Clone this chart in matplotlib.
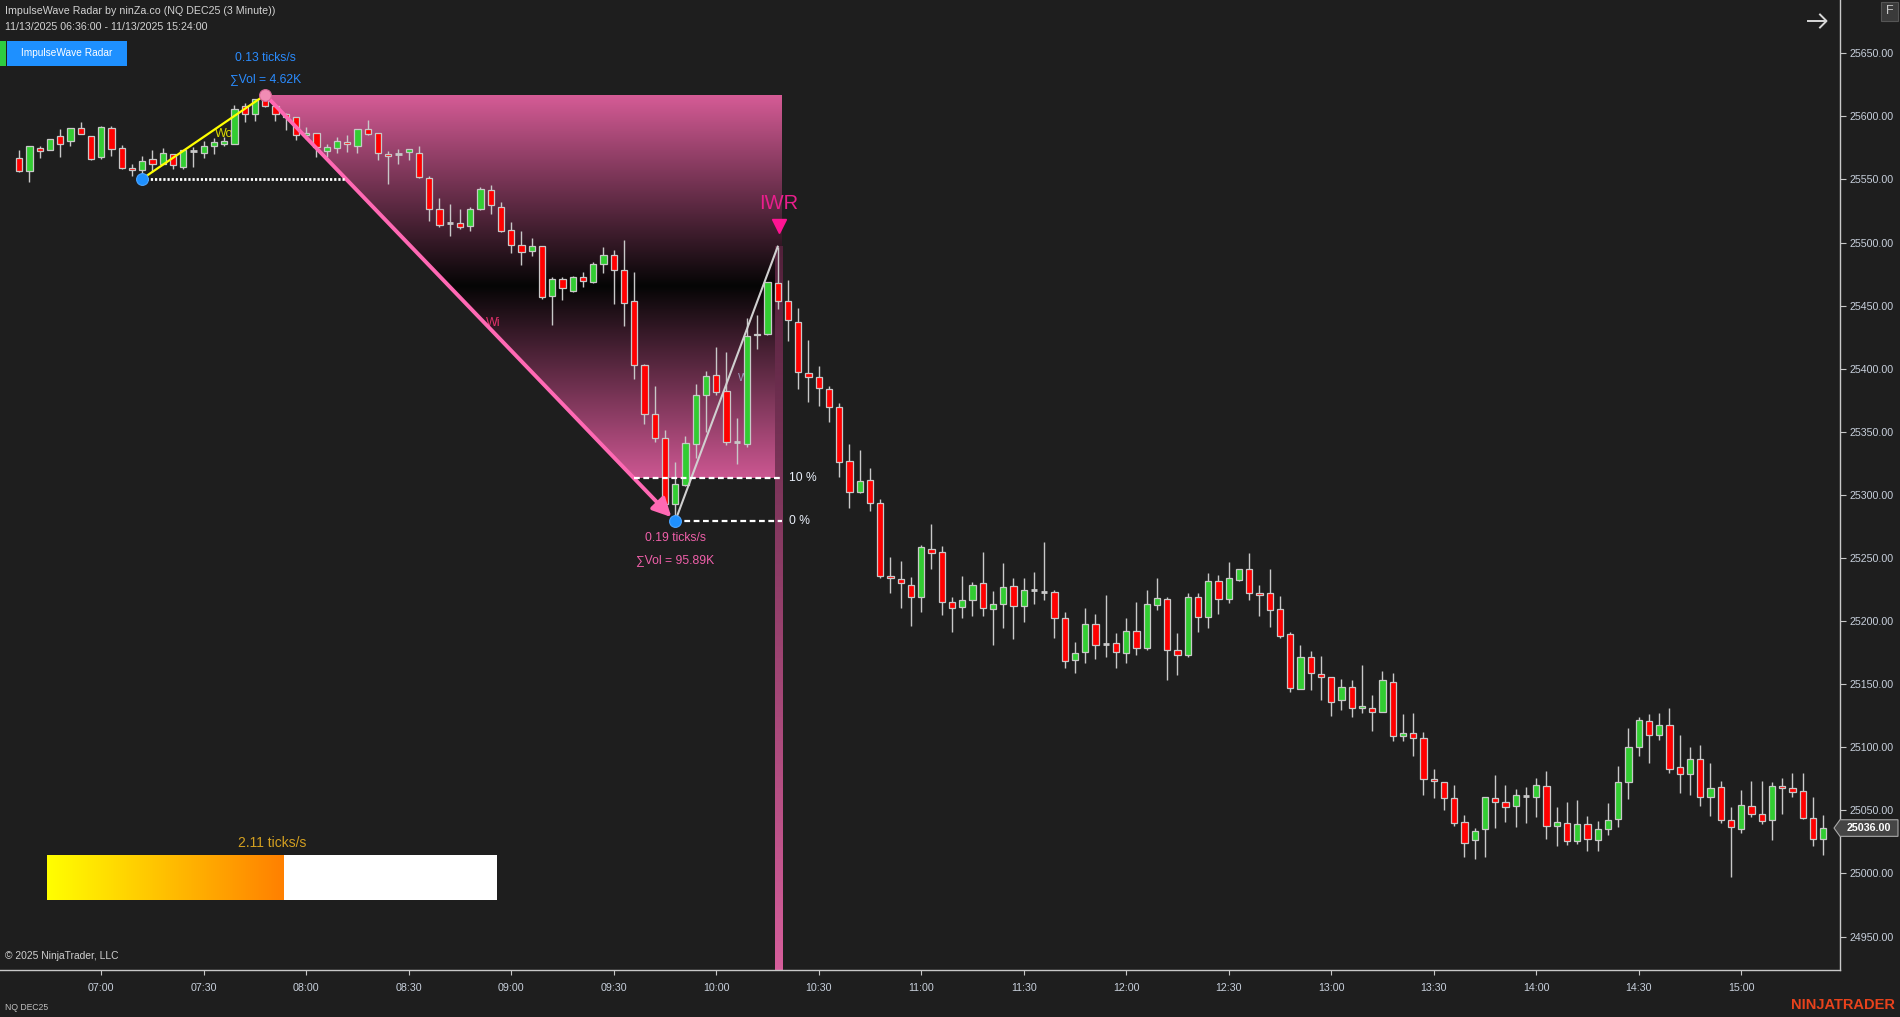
import numpy as np
import matplotlib
matplotlib.use("Agg")
import matplotlib.pyplot as plt
from matplotlib.patches import Polygon, Rectangle
from matplotlib.lines import Line2D
import matplotlib.transforms as mtransforms

plt.rcParams['font.family'] = ['Liberation Sans', 'DejaVu Sans']

# ---------------- data (NQ DEC25, 3 minute bars) ----------------
start_time = "06:36"
bar_minutes = 3

opens = [25566.75, 25556.5, 25574.75, 25573.0, 25584.25, 25580.25, 25590.5, 25584.25, 25567.5, 25590.5,
         25574.75, 25558.75, 25557.25, 25566.0, 25562.25, 25570.0, 25560.0, 25572.5, 25570.75, 25576.25,
         25577.75, 25578.5, 25608.0, 25601.5, 25614.25, 25608.5, 25601.5, 25599.25, 25585.0, 25586.5,
         25572.25, 25574.75, 25579.5, 25576.25, 25589.75, 25586.5, 25570.0, 25570.25, 25571.5, 25570.75,
         25551.0, 25526.25, 25515.75, 25515.75, 25513.5, 25526.25, 25541.5, 25528.0, 25510.25, 25498.25,
         25493.5, 25497.0, 25457.5, 25471.5, 25462.0, 25472.5, 25468.5, 25482.75, 25490.5, 25478.0,
         25453.5, 25403.0, 25364.0, 25345.5, 25292.75, 25307.75, 25340.5, 25379.5, 25394.75, 25382.0,
         25341.75, 25340.5, 25426.5, 25427.25, 25468.25, 25453.5, 25437.25, 25396.5, 25393.25, 25384.25,
         25369.5, 25326.5, 25302.5, 25311.5, 25294.0, 25236.0, 25233.5, 25229.0, 25218.75, 25257.5,
         25254.5, 25215.5, 25211.0, 25216.5, 25230.0, 25209.25, 25213.25, 25227.5, 25211.75, 25224.5,
         25222.75, 25222.75, 25202.25, 25169.0, 25175.25, 25198.0, 25181.5, 25182.5, 25174.5, 25192.0,
         25178.5, 25212.75, 25217.25, 25176.75, 25173.5, 25219.5, 25203.0, 25231.5, 25217.25, 25232.25,
         25241.0, 25222.0, 25222.0, 25209.25, 25189.5, 25146.0, 25171.25, 25157.75, 25155.5, 25137.25,
         25147.5, 25130.75, 25131.5, 25127.75, 25151.5, 25108.75, 25111.0, 25107.0, 25074.75, 25072.25,
         25059.5, 25040.5, 25026.25, 25035.0, 25059.5, 25056.25, 25053.25, 25061.5, 25060.25, 25069.0,
         25038.0, 25039.75, 25025.5, 25039.0, 25026.25, 25035.0, 25043.0, 25072.25, 25100.0, 25120.5,
         25109.5, 25117.5, 25084.0, 25078.5, 25090.5, 25061.0, 25068.25, 25042.0, 25035.0, 25053.25,
         25046.75, 25042.0, 25069.0, 25067.5, 25065.0, 25043.75, 25027.0]

highs = [25573.25, 25576.25, 25576.5, 25582.0, 25590.0, 25590.5, 25595.5, 25584.5, 25592.5, 25592.5,
         25577.25, 25562.0, 25569.0, 25573.25, 25575.0, 25570.0, 25573.0, 25575.5, 25580.75, 25582.5,
         25584.0, 25609.0, 25610.25, 25613.5, 25617.0, 25609.75, 25603.0, 25599.25, 25591.25, 25586.5,
         25577.75, 25583.5, 25585.0, 25589.75, 25597.0, 25586.5, 25572.75, 25574.5, 25574.0, 25576.25,
         25552.75, 25535.0, 25530.25, 25526.25, 25528.0, 25543.75, 25545.25, 25532.0, 25516.0, 25509.5,
         25503.25, 25497.0, 25473.0, 25472.5, 25473.5, 25476.5, 25484.25, 25496.25, 25493.75, 25501.75,
         25477.0, 25403.5, 25386.25, 25351.5, 25325.75, 25346.75, 25388.0, 25398.5, 25417.5, 25413.25,
         25360.75, 25440.0, 25442.25, 25469.0, 25496.75, 25470.0, 25448.0, 25422.75, 25402.25, 25386.25,
         25372.5, 25340.5, 25335.5, 25321.0, 25296.75, 25250.5, 25247.5, 25235.25, 25260.25, 25276.75,
         25259.5, 25219.0, 25235.75, 25230.75, 25254.75, 25223.5, 25246.0, 25234.5, 25234.5, 25239.0,
         25262.5, 25225.0, 25207.0, 25183.25, 25210.0, 25206.0, 25220.5, 25190.25, 25202.25, 25215.5,
         25224.5, 25234.0, 25218.75, 25190.25, 25222.0, 25222.0, 25237.75, 25236.25, 25246.75, 25241.0,
         25254.0, 25228.5, 25241.25, 25220.0, 25191.0, 25181.0, 25176.25, 25172.25, 25155.5, 25154.0,
         25153.25, 25165.25, 25141.5, 25160.5, 25158.5, 25126.5, 25127.25, 25112.0, 25082.75, 25072.25,
         25070.0, 25046.0, 25035.75, 25060.25, 25077.75, 25069.75, 25066.75, 25068.25, 25075.5, 25081.25,
         25052.5, 25056.25, 25058.0, 25045.25, 25041.25, 25055.5, 25085.0, 25115.0, 25123.75, 25126.0,
         25127.0, 25131.0, 25109.5, 25100.0, 25101.5, 25087.25, 25073.0, 25052.5, 25066.0, 25073.0,
         25073.0, 25072.25, 25075.5, 25080.0, 25079.25, 25060.25, 25046.0]

lows = [25556.25, 25548.25, 25567.25, 25573.0, 25568.0, 25576.75, 25585.75, 25565.75, 25566.5, 25568.5,
        25558.5, 25552.75, 25550.5, 25556.25, 25562.0, 25558.5, 25558.5, 25560.0, 25567.0, 25570.0,
        25576.25, 25578.5, 25595.75, 25596.5, 25607.75, 25596.5, 25589.25, 25581.25, 25582.25, 25568.0,
        25567.5, 25571.25, 25572.0, 25571.25, 25585.0, 25565.75, 25546.75, 25562.0, 25565.75, 25551.0,
        25517.25, 25512.5, 25505.5, 25511.0, 25509.5, 25525.5, 25523.0, 25508.5, 25492.0, 25482.5,
        25489.5, 25455.0, 25435.0, 25454.25, 25460.5, 25464.5, 25467.75, 25475.5, 25451.0, 25433.5,
        25392.0, 25356.0, 25341.75, 25290.75, 25279.25, 25307.0, 25329.0, 25350.0, 25379.5, 25339.5,
        25324.25, 25338.25, 25415.5, 25427.0, 25447.0, 25422.25, 25384.25, 25373.5, 25370.75, 25358.0,
        25314.0, 25289.5, 25301.25, 25287.25, 25234.0, 25222.0, 25210.5, 25196.5, 25207.0, 25241.25,
        25204.75, 25191.5, 25202.25, 25204.25, 25204.25, 25181.25, 25194.75, 25186.0, 25199.5, 25213.75,
        25216.5, 25186.75, 25162.5, 25158.5, 25166.5, 25169.75, 25171.25, 25162.5, 25166.5, 25172.75,
        25177.5, 25208.75, 25153.25, 25157.0, 25171.25, 25191.5, 25194.75, 25206.0, 25214.0, 25231.5,
        25216.75, 25204.25, 25195.5, 25187.0, 25144.0, 25146.0, 25145.5, 25137.75, 25125.0, 25129.75,
        25124.25, 25127.5, 25113.0, 25127.75, 25104.75, 25104.75, 25093.25, 25062.5, 25060.0, 25050.5,
        25037.25, 25013.25, 25011.75, 25013.25, 25035.75, 25040.5, 25036.5, 25039.75, 25044.5, 25027.0,
        25021.5, 25022.25, 25023.75, 25017.5, 25017.5, 25030.25, 25036.5, 25058.75, 25092.75, 25087.25,
        25105.5, 25080.0, 25063.5, 25062.0, 25053.25, 25045.25, 25039.75, 24997.5, 25031.75, 25044.5,
        25039.0, 25026.25, 25046.75, 25060.25, 25043.0, 25021.5, 25014.25]

closes = [25556.5, 25576.25, 25572.25, 25581.75, 25578.5, 25590.5, 25585.75, 25566.5, 25591.5, 25574.0,
          25558.75, 25557.25, 25564.5, 25562.25, 25571.0, 25561.25, 25573.0, 25572.5, 25576.25, 25579.5,
          25580.5, 25605.5, 25601.5, 25613.5, 25608.5, 25601.5, 25599.5, 25585.0, 25586.5, 25575.5,
          25575.5, 25580.25, 25577.75, 25589.75, 25585.75, 25570.75, 25568.25, 25570.25, 25574.0, 25551.75,
          25527.0, 25514.25, 25515.75, 25512.5, 25526.25, 25542.25, 25529.5, 25509.5, 25497.75, 25492.75,
          25497.0, 25456.5, 25470.75, 25463.75, 25472.5, 25469.25, 25482.75, 25490.5, 25478.0, 25452.5,
          25402.75, 25364.5, 25345.5, 25292.75, 25308.5, 25341.0, 25379.0, 25394.0, 25381.25, 25341.75,
          25341.75, 25426.25, 25427.75, 25469.0, 25453.5, 25438.5, 25397.25, 25393.5, 25384.75, 25369.5,
          25325.75, 25302.0, 25310.75, 25294.0, 25236.0, 25234.0, 25230.0, 25219.5, 25258.5, 25253.75,
          25215.0, 25210.0, 25216.5, 25229.0, 25210.0, 25213.25, 25226.75, 25211.75, 25225.0, 25224.5,
          25222.75, 25202.25, 25168.0, 25175.0, 25198.0, 25180.75, 25181.5, 25175.25, 25192.0, 25178.5,
          25213.25, 25218.0, 25177.5, 25172.75, 25218.75, 25203.0, 25231.5, 25217.25, 25234.0, 25241.0,
          25222.0, 25220.5, 25208.5, 25188.5, 25146.75, 25171.25, 25158.5, 25155.5, 25135.5, 25147.5,
          25131.5, 25132.5, 25127.75, 25153.0, 25108.75, 25111.0, 25107.0, 25074.75, 25073.25, 25059.5,
          25039.75, 25024.5, 25033.5, 25060.25, 25057.0, 25052.5, 25062.0, 25061.5, 25069.75, 25038.0,
          25040.5, 25025.5, 25039.0, 25027.0, 25035.0, 25042.0, 25072.25, 25100.0, 25122.0, 25109.5,
          25117.5, 25082.5, 25078.5, 25090.5, 25060.25, 25067.5, 25042.0, 25036.5, 25054.0, 25047.5,
          25041.25, 25069.0, 25067.5, 25064.25, 25043.75, 25027.0, 25036.0]

time_tick_labels = ["07:00", "07:30", "08:00", "08:30", "09:00", "09:30", "10:00", "10:30", "11:00",
                    "11:30", "12:00", "12:30", "13:00", "13:30", "14:00", "14:30", "15:00"]
price_ticks = [24950, 25000, 25050, 25100, 25150, 25200, 25250, 25300, 25350, 25400,
               25450, 25500, 25550, 25600, 25650]

# ImpulseWave Radar swing points (bar indices)
swing_low1_idx = 12
swing_high_idx = 24
swing_low2_idx = 64
iwr_idx = 74
retrace_levels = [0.10, 0.0]
level_labels = ["10 %", "0 %"]
speed_up_text = ["0.13 ticks/s", "\u2211Vol = 4.62K"]
speed_down_text = ["0.19 ticks/s", "\u2211Vol = 95.89K"]
speed_now = 2.11
speed_max = 4.0

title_line1 = "ImpulseWave Radar by ninZa.co (NQ DEC25 (3 Minute))"
title_line2 = "11/13/2025 06:36:00 - 11/13/2025 15:24:00"

# ---------------- styling ----------------
BG = '#1e1e1e'
RED = '#ff0000'
GREEN = '#32cd32'
EDGE = '#c8c8c8'
AXC = '#c8c8c8'
TICKC = '#c8d0dc'
PINK = '#ff69b4'
BLUE = '#1e90ff'

W, H = 1900, 1017
fig = plt.figure(figsize=(W / 100, H / 100), dpi=100)
fig.patch.set_facecolor(BG)


def fx(px):
    return px / W


def fy(py):
    return 1 - py / H


ax = fig.add_axes([0, 47 / H, 1840 / W, 970 / H])
ax.set_facecolor(BG)

o = np.array(opens)
h = np.array(highs)
l = np.array(lows)
c = np.array(closes)
x = np.arange(len(c))

XLIM = (-1.873, 177.64)
YLIM = (24923.5, 25692.24)

# swing values derived from the data
lo1_p = l[swing_low1_idx]
hi_p = h[swing_high_idx]
lo2_p = l[swing_low2_idx]
iwr_p = h[iwr_idx]
rng = hi_p - lo2_p
lvl = [lo2_p + r * rng for r in retrace_levels]


def diag_x(p):
    return swing_high_idx + (swing_low2_idx - swing_high_idx) * (hi_p - p) / rng


shade_right = iwr_idx + 0.45

# ---- gradient shading (pink - black - pink) ----
n = 400
tt = np.linspace(0, 1, n)[:, None]
pink_top = np.array([0.84, 0.36, 0.59])
pink_bot = np.array([0.80, 0.34, 0.57])
pink = pink_bot + (pink_top - pink_bot) * tt
f = np.abs(2 * tt - 1)
dark = np.array([0.02, 0.02, 0.02])
rgb = dark + (pink - dark) * f
im = ax.imshow(rgb[:, None, :], extent=[swing_high_idx, shade_right, lvl[0], hi_p],
               origin='lower', aspect='auto', interpolation='bilinear', zorder=1)
poly = Polygon([(swing_high_idx, hi_p), (shade_right, hi_p), (shade_right, lvl[0]),
                (diag_x(lvl[0]), lvl[0])], closed=True, transform=ax.transData)
im.set_clip_path(poly)

# ---- vertical IWR bar ----
tb = np.linspace(0, 1, n)[:, None]  # 0 bottom -> 1 top
bar_bot = np.array([0.84, 0.37, 0.61])
bar_top = np.array([0.32, 0.13, 0.23])
rgb2 = bar_bot + (bar_top - bar_bot) * tb
ax.imshow(rgb2[:, None, :], extent=[iwr_idx - 0.3, shade_right, YLIM[0], iwr_p],
          origin='lower', aspect='auto', interpolation='bilinear', zorder=1.5)

# ---- labels hidden partly behind candles ----
ax.annotate("Wo", xy=((swing_low1_idx + swing_high_idx) / 2, (lo1_p + hi_p) / 2),
            xytext=(8, 2), textcoords='offset points', color='#d8d800', fontsize=9,
            ha='left', va='center', zorder=2)
ax.annotate("Wi", xy=((swing_high_idx + swing_low2_idx) / 2, (hi_p + lo2_p) / 2),
            xytext=(11, -11), textcoords='offset points', color='#e0306a', fontsize=9,
            ha='left', va='center', zorder=2)
ax.annotate("Wr", xy=((swing_low2_idx + iwr_idx) / 2, (lo2_p + iwr_p) / 2),
            xytext=(8, 4), textcoords='offset points', color='#9a9ab8', fontsize=8,
            ha='left', va='center', zorder=2)

# ---- candles ----
up = c > o
dn = c < o
dj = c == o
ax.vlines(x, l, h, color=EDGE, lw=1.0, zorder=3)
ax.bar(x[up], (c - o)[up], bottom=o[up], width=0.6, color=GREEN, edgecolor=EDGE,
       linewidth=0.9, zorder=4)
ax.bar(x[dn], (o - c)[dn], bottom=c[dn], width=0.6, color=RED, edgecolor=EDGE,
       linewidth=0.9, zorder=4)
ax.hlines(c[dj], x[dj] - 0.3, x[dj] + 0.3, color=EDGE, lw=2.0, zorder=4)

# ---- wave lines ----
ax.plot([swing_low1_idx, swing_high_idx], [lo1_p, hi_p], color='#ffff00', lw=1.6, zorder=5,
        solid_capstyle='round')
ax.plot([swing_low2_idx, iwr_idx], [lo2_p, iwr_p], color='#d0d0d0', lw=1.5, zorder=5)
ax.annotate('', xy=(swing_low2_idx, lo2_p), xytext=(swing_high_idx, hi_p),
            arrowprops=dict(arrowstyle='-|>,head_length=0.55,head_width=0.28', color=PINK,
                            lw=2.8, shrinkA=0, shrinkB=4, mutation_scale=20), zorder=5)

# dotted line from first swing low to the wave line
ax.plot([swing_low1_idx, diag_x(lo1_p)], [lo1_p, lo1_p], color='white', lw=2.0,
        linestyle=(0, (0.8, 0.7)), zorder=5)
# retracement levels
ax.plot([diag_x(lvl[0]), shade_right], [lvl[0], lvl[0]], color='white', lw=1.6,
        linestyle=(0, (2.6, 1.6)), zorder=5)
ax.plot([swing_low2_idx, shade_right], [lvl[1], lvl[1]], color='white', lw=1.6,
        linestyle=(0, (2.6, 1.6)), zorder=5)
for v, t in zip(lvl, level_labels):
    ax.annotate(t, xy=(shade_right, v), xytext=(5, 0), textcoords='offset points',
                color='#e8eef8', fontsize=8.7, ha='left', va='center', zorder=6)

# swing dots
ax.plot(swing_low1_idx, lo1_p, 'o', ms=8.5, color=BLUE, mec='#4aa4ff', mew=0.8, zorder=6)
ax.plot(swing_high_idx, hi_p, 'o', ms=8.5, color='#f08cb4', mec='#d86898', mew=0.8, zorder=6)
ax.plot(swing_low2_idx, lo2_p, 'o', ms=8.5, color=BLUE, mec='#4aa4ff', mew=0.8, zorder=6)

# speed / volume labels
ax.annotate(speed_up_text[0], xy=(swing_high_idx, hi_p), xytext=(0, 26.9), textcoords='offset points',
            color='#2a8cff', fontsize=8.7, ha='center', va='center', zorder=6)
ax.annotate(speed_up_text[1], xy=(swing_high_idx, hi_p), xytext=(0, 11.6), textcoords='offset points',
            color='#2a8cff', fontsize=8.7, ha='center', va='center', zorder=6)
ax.annotate(speed_down_text[0], xy=(swing_low2_idx, lo2_p), xytext=(0, -12.2), textcoords='offset points',
            color='#f060aa', fontsize=8.7, ha='center', va='center', zorder=6)
ax.annotate(speed_down_text[1], xy=(swing_low2_idx, lo2_p), xytext=(0, -27.9), textcoords='offset points',
            color='#f060aa', fontsize=8.7, ha='center', va='center', zorder=6)

# IWR signal
ax.plot(iwr_idx + 0.1, iwr_p, marker='v', ms=9.7, color='#ff1493', zorder=6,
        transform=ax.transData + mtransforms.ScaledTranslation(0, 20.7 / 100, fig.dpi_scale_trans))
ax.annotate('IWR', xy=(iwr_idx + 0.1, iwr_p), xytext=(0, 31), textcoords='offset points',
            color='#e91e8c', fontsize=14.5, ha='center', va='center', zorder=6)

# ---- axes ----
ax.set_xlim(*XLIM)
ax.set_ylim(*YLIM)


def minutes(s):
    hh, mm = s.split(':')
    return int(hh) * 60 + int(mm)


tick_pos = [(minutes(t) - minutes(start_time)) // bar_minutes for t in time_tick_labels]
ax.set_xticks(tick_pos)
ax.set_xticklabels(time_tick_labels)
ax.yaxis.tick_right()
ax.set_yticks(price_ticks)
ax.set_yticklabels([f"{v:.2f}" for v in price_ticks])
ax.tick_params(axis='x', colors=AXC, length=3.6, width=0.8, labelsize=7.7, labelcolor=TICKC, pad=6)
ax.tick_params(axis='y', colors=AXC, length=4.3, width=0.8, labelsize=7.7, labelcolor=TICKC, pad=2.2)
for s in ['top', 'left']:
    ax.spines[s].set_visible(False)
for s in ['right', 'bottom']:
    ax.spines[s].set_color(AXC)
    ax.spines[s].set_linewidth(1.0)

# last price tag
bt = mtransforms.blended_transform_factory(fig.transFigure, ax.transData)
last = c[-1]
hh = 8.3 / 1.2618
tag = Polygon([(fx(1834), last), (fx(1840), last + hh), (fx(1898), last + hh),
               (fx(1898), last - hh), (fx(1840), last - hh)], closed=True,
              transform=bt, facecolor='#454545', edgecolor='#a8a8a8', lw=0.8, clip_on=False, zorder=10)
fig.add_artist(tag)
fig.text(fx(1869), last, f"{last:.2f}", transform=bt, color='white', fontsize=7.7,
         fontweight='bold', ha='center', va='center', zorder=11)

# ---- overlay UI ----
fig.text(fx(5), fy(11), title_line1, color='#d2d2d2', fontsize=7.7, ha='left', va='center')
fig.text(fx(5), fy(27), title_line2, color='#d2d2d2', fontsize=7.7, ha='left', va='center')
fig.add_artist(Rectangle((fx(0), fy(66)), fx(6), 25 / H, transform=fig.transFigure,
                         facecolor='#2ecc40', edgecolor='none'))
fig.add_artist(Rectangle((fx(7), fy(66)), fx(120), 25 / H, transform=fig.transFigure,
                         facecolor='#1e90ff', edgecolor='none'))
fig.text(fx(67), fy(53.5), "ImpulseWave Radar", color='white', fontsize=7.3, ha='center', va='center')

# top-right arrow and F box
fig.add_artist(Line2D([fx(1808), fx(1826)], [fy(21), fy(21)], color='#d8d8d8', lw=1.4,
                      transform=fig.transFigure))
fig.add_artist(Line2D([fx(1820), fx(1826.5), fx(1820)], [fy(14.5), fy(21), fy(27.5)], color='#d8d8d8',
                      lw=1.4, transform=fig.transFigure))
fig.add_artist(Rectangle((fx(1881), fy(21)), 17 / W, 19 / H, transform=fig.transFigure,
                         facecolor='#3a3a3a', edgecolor='#555555', lw=0.8))
fig.text(fx(1889.5), fy(11.5), "F", color='#c8c8c8', fontsize=9, ha='center', va='center')

fig.text(fx(5), fy(956), "\u00a9 2025 NinjaTrader, LLC", color='#d0d0d0', fontsize=7.4,
         ha='left', va='center')
fig.text(fx(5), fy(1008), "NQ DEC25", color='#c0c0c0', fontsize=6.2, ha='left', va='center')
fig.text(fx(1895), fy(1005), "NINJATRADER", color='#e8421c', fontsize=10.5, fontweight='bold',
         ha='right', va='center')

# speed bar
sax = fig.add_axes([fx(47), fy(900), 450 / W, 45 / H])
sax.axis('off')
g = np.linspace(0, 1, 256)
grad = np.zeros((1, 256, 3))
grad[0, :, 0] = 1.0
grad[0, :, 1] = 1.0 - 0.5 * g
grad[0, :, 2] = 0.0
sax.imshow(grad, extent=[0, speed_now, 0, 1], aspect='auto', interpolation='bilinear')
sax.add_patch(Rectangle((speed_now, 0), speed_max - speed_now, 1, facecolor='white', edgecolor='none'))
sax.set_xlim(0, speed_max)
sax.set_ylim(0, 1)
fig.text(fx(272), fy(842.7), f"{speed_now:.2f} ticks/s", color='#d4a020', fontsize=10,
         ha='center', va='center')

fig.savefig("out.png", dpi=100, facecolor=BG)
